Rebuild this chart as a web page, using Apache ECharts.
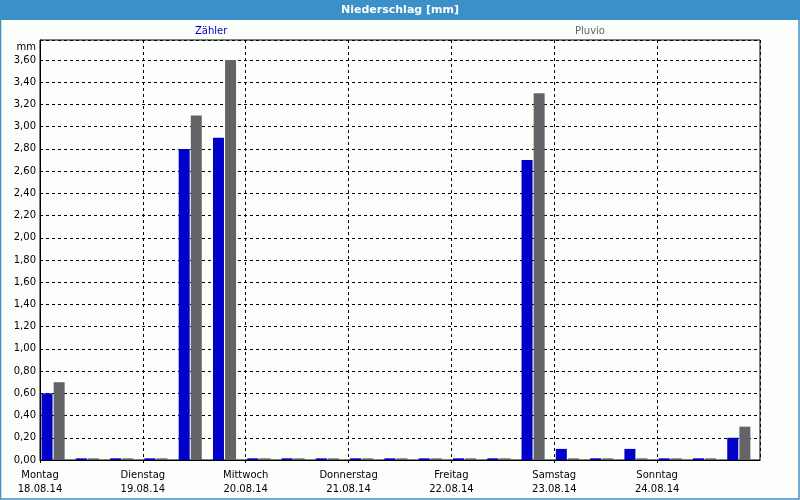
<!DOCTYPE html>
<html><head><meta charset="utf-8">
<script src="https://cdn.jsdelivr.net/npm/echarts@6/dist/echarts.min.js"></script>
<style>html,body{margin:0;padding:0;background:#fcfefc}#c{width:800px;height:500px}</style>
</head><body><div id="c"></div>
<script>
const slots = ['18.08. 0','18.08. 8','18.08. 16','19.08. 0','19.08. 8','19.08. 16','20.08. 0','20.08. 8','20.08. 16','21.08. 0','21.08. 8','21.08. 16','22.08. 0','22.08. 8','22.08. 16','23.08. 0','23.08. 8','23.08. 16','24.08. 0','24.08. 8','24.08. 16'];
const zaehler = [0.6,0.015,0.015,0.015,2.8,2.9,0.015,0.015,0.015,0.015,0.015,0.015,0.015,0.015,2.7,0.1,0.015,0.1,0.015,0.015,0.2];
const pluvio  = [0.7,0.015,0.015,0.015,3.1,3.6,0.015,0.015,0.015,0.015,0.015,0.015,0.015,0.015,3.3,0.015,0.015,0.015,0.015,0.015,0.3];
const dayNames = ['Montag','Dienstag','Mittwoch','Donnerstag','Freitag','Samstag','Sonntag'];
const dayDates = ['18.08.14','19.08.14','20.08.14','21.08.14','22.08.14','23.08.14','24.08.14'];
const FONT = 'DejaVu Sans';
const chart = echarts.init(document.getElementById('c'));
const dashed = {show:true, lineStyle:{color:'#000', type:[3,3], width:1}};
chart.setOption({
  backgroundColor:'#fcfefc',
  animation:false,
  textStyle:{fontFamily:FONT},
  graphic:[
    {type:'rect', shape:{x:0,y:0,width:800,height:20}, style:{fill:'#3c90c8'}, z:10},
    {type:'rect', shape:{x:0.5,y:0.5,width:798.5,height:498.5}, style:{fill:null, stroke:'#3c90c8', lineWidth:1.5}, z:10},
    {type:'text', x:400, y:10, style:{text:'Niederschlag [mm]', fill:'#fff', font:'bold 11px '+FONT, align:'center', verticalAlign:'middle'}, z:11},
    {type:'text', x:36, y:47, style:{text:'mm', fill:'#000', font:'10px '+FONT, align:'right', verticalAlign:'middle'}, z:11}
  ],
  legend:[
    {data:[{name:'Zähler', textStyle:{color:'#0000c8'}}], left:190, top:26, padding:0, itemWidth:0, itemHeight:0, selectedMode:false, textStyle:{fontSize:10, fontFamily:FONT}},
    {data:[{name:'Pluvio', textStyle:{color:'#646468'}}], left:570, top:26, padding:0, itemWidth:0, itemHeight:0, selectedMode:false, textStyle:{fontSize:10, fontFamily:FONT}}
  ],
  grid:{left:40, right:40, top:40, bottom:40, show:true, borderColor:'#000', borderWidth:1, backgroundColor:'#fcfefc'},
  xAxis:[
    {type:'category', data:slots, show:false, boundaryGap:true},
    {type:'value', min:0, max:7, interval:1, position:'bottom',
     axisLine:{show:true, lineStyle:{color:'#000'}},
     axisTick:{show:true, length:3, lineStyle:{color:'#000'}},
     splitLine:dashed,
     axisLabel:{show:true, color:'#000', fontSize:10, fontFamily:FONT, lineHeight:14, margin:8, showMaxLabel:false,
       formatter:v => v < 7 ? dayNames[v] + '\n' + dayDates[v] : ''}}
  ],
  yAxis:{type:'value', min:0, max:3.78, interval:0.2,
    axisLine:{show:true, lineStyle:{color:'#000'}},
    axisTick:{show:false},
    splitLine:dashed,
    axisLabel:{color:'#000', fontSize:10, fontFamily:FONT, margin:4, showMaxLabel:false,
      formatter:v => v > 3.7 ? '' : v.toFixed(2).replace('.', ',')}},
  series:[
    {name:'Zähler', type:'bar', xAxisIndex:0, data:zaehler, barWidth:11, barGap:'10%', itemStyle:{color:'#0000c8', borderWidth:0}},
    {name:'Pluvio', type:'bar', xAxisIndex:0, data:pluvio, barWidth:11, barGap:'10%', itemStyle:{color:'#646468', borderWidth:0}},
    {name:'_pad', type:'bar', xAxisIndex:0, data:[], barWidth:7, barGap:'10%', silent:true}
  ]
});
</script></body></html>
